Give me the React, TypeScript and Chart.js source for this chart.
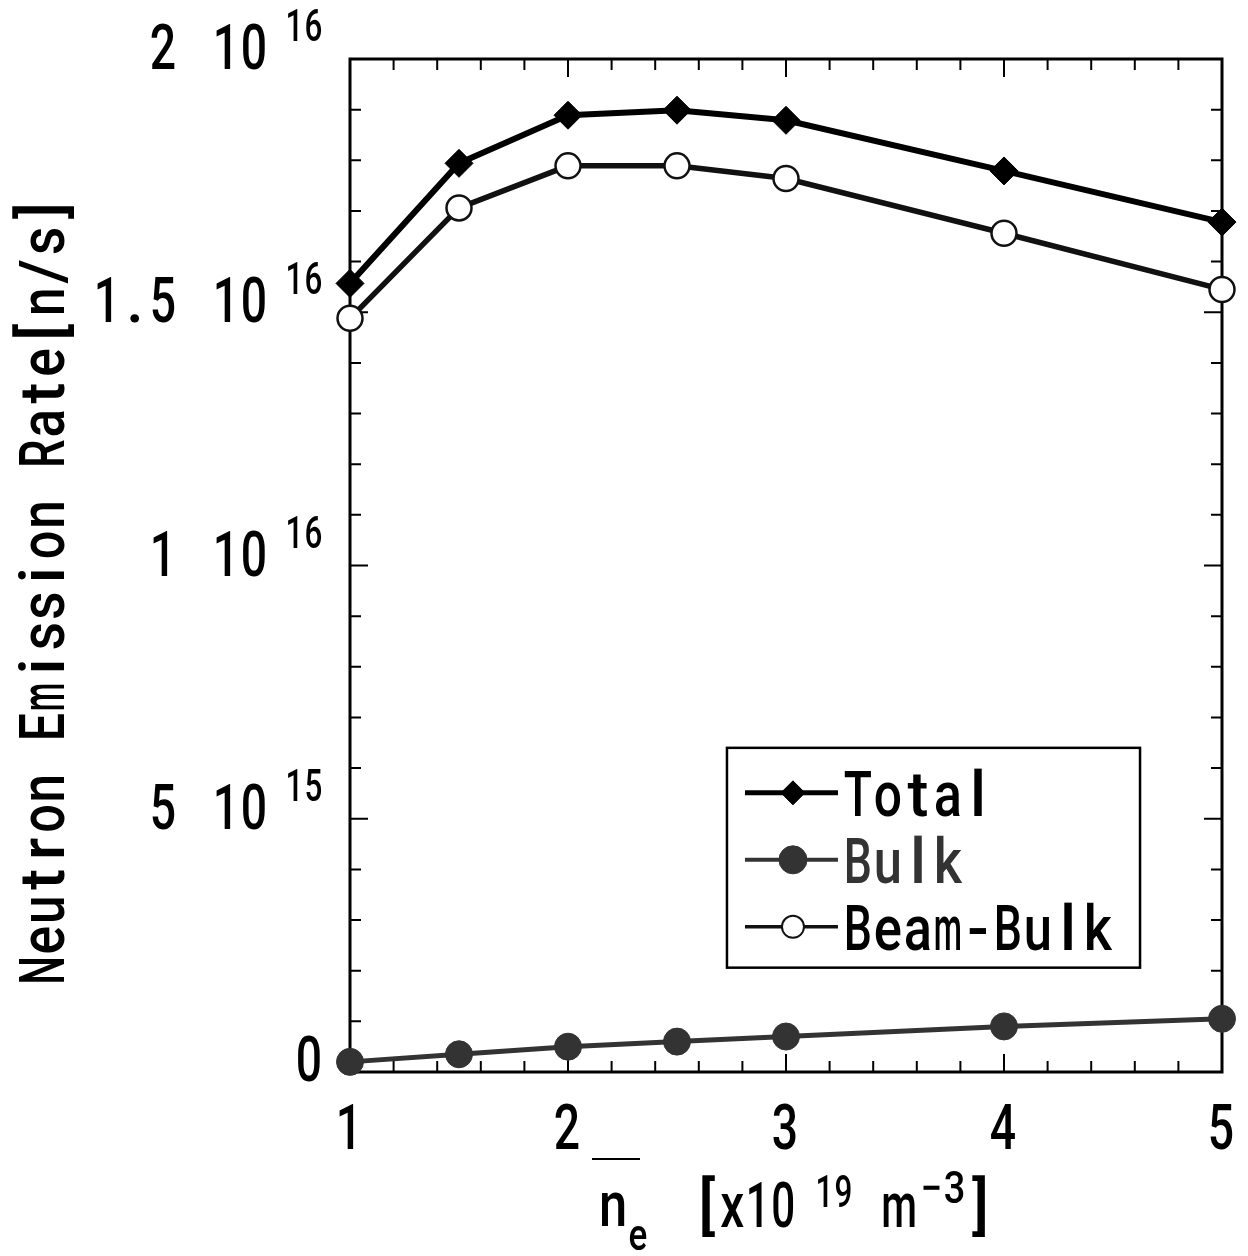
import React, { useEffect, useRef } from "react";
import { Chart, registerables } from "chart.js";

Chart.register(...registerables);

// ---- data ----
const densities = [1, 1.5, 2, 2.5, 3, 4, 5];
const totalRate = [1.557e16, 1.794e16, 1.889e16, 1.899e16, 1.879e16, 1.779e16, 1.678e16];
const bulkRate = [2.0e14, 3.5e14, 5.0e14, 6.0e14, 7.0e14, 9.0e14, 1.05e15];
const beamBulkRate = [1.488e16, 1.706e16, 1.789e16, 1.789e16, 1.764e16, 1.656e16, 1.545e16];

const seriesLabels = ["Total", "Bulk", "Beam-Bulk"];

const xTickValues = [1, 2, 3, 4, 5];
const xTickLabels = ["1", "2", "3", "4", "5"];
const xMinorStep = 0.2;

const yTickValues = [0, 5e15, 1e16, 1.5e16, 2e16];
const yTickMantissas = ["0", "5", "1", "1.5", "2"];
const yTickExponents = ["", "15", "16", "16", "16"];
const yMinorStep = 1e15;

const yTitle = "Neutron Emission Rate[n/s]";

const FONT = 'Roboto, "Noto Sans", sans-serif';
const WEIGHT = "500";

function drawMono(
  ctx: CanvasRenderingContext2D,
  text: string,
  anchor: number,
  baseline: number,
  size: number,
  cell: number,
  color: string,
  align: "left" | "right" | "center" = "left"
) {
  ctx.save();
  ctx.font = `${WEIGHT} ${size}px ${FONT}`;
  ctx.fillStyle = color;
  ctx.textAlign = "center";
  ctx.textBaseline = "alphabetic";
  const total = text.length * cell;
  const x0 = align === "left" ? anchor : align === "right" ? anchor - total : anchor - total / 2;
  for (let i = 0; i < text.length; i++) {
    const ch = text[i];
    if (ch === " ") continue;
    const w = ctx.measureText(ch).width;
    const s = Math.min(1, (cell * 0.94) / Math.max(w, 1));
    ctx.save();
    ctx.translate(x0 + cell * (i + 0.5), baseline);
    ctx.scale(s, 1);
    ctx.fillText(ch, 0, 0);
    ctx.restore();
  }
  ctx.restore();
}

const framePlugin = {
  id: "frameTicks",
  beforeDatasetsDraw(chart: any) {
    const { ctx, chartArea: a, scales } = chart;
    const xs = scales.x;
    const ys = scales.y;
    ctx.save();
    ctx.strokeStyle = "#000";
    ctx.lineWidth = 3;
    ctx.strokeRect(a.left, a.top, a.right - a.left, a.bottom - a.top);
    ctx.lineWidth = 2;
    ctx.beginPath();
    const xMin = xs.min, xMax = xs.max;
    const nx = Math.round((xMax - xMin) / xMinorStep);
    for (let i = 1; i < nx; i++) {
      const v = xMin + i * xMinorStep;
      const major = Math.abs(v - Math.round(v)) < 1e-6;
      const len = major ? 18 : 11;
      const px = xs.getPixelForValue(v);
      ctx.moveTo(px, a.bottom);
      ctx.lineTo(px, a.bottom - len);
      ctx.moveTo(px, a.top);
      ctx.lineTo(px, a.top + len);
    }
    const ny = Math.round((ys.max - ys.min) / yMinorStep);
    for (let i = 1; i < ny; i++) {
      const v = ys.min + i * yMinorStep;
      const major = i % 5 === 0;
      const len = major ? 18 : 11;
      const py = ys.getPixelForValue(v);
      ctx.moveTo(a.left, py);
      ctx.lineTo(a.left + len, py);
      ctx.moveTo(a.right, py);
      ctx.lineTo(a.right - len, py);
    }
    ctx.stroke();
    ctx.restore();
  },
};

const textPlugin = {
  id: "texts",
  afterDraw(chart: any) {
    const { ctx, chartArea: a, scales } = chart;
    const xs = scales.x;
    const ys = scales.y;
    const big = 63;
    const small = 44;
    yTickValues.forEach((v, i) => {
      const py = ys.getPixelForValue(v);
      const exp = yTickExponents[i];
      if (exp) {
        drawMono(ctx, exp, a.left - 27, py - 18, small, 19, "#000", "right");
        drawMono(ctx, "10", a.left - 82, py + 10, big, 28, "#000", "right");
        drawMono(ctx, yTickMantissas[i], a.left - 173, py + 10, big, 28, "#000", "right");
      } else {
        drawMono(ctx, yTickMantissas[i], a.left - 27, py + 9, big, 28, "#000", "right");
      }
    });
    xTickValues.forEach((v, i) => {
      const px = xs.getPixelForValue(v);
      drawMono(ctx, xTickLabels[i], px - 1, a.bottom + 77, big, 28, "#000", "center");
    });
    const cx = (a.left + a.right) / 2;
    const b = a.bottom;
    ctx.save();
    ctx.strokeStyle = "#000";
    ctx.lineWidth = 2;
    ctx.beginPath();
    ctx.moveTo(cx - 194, b + 87);
    ctx.lineTo(cx - 146, b + 87);
    ctx.stroke();
    ctx.restore();
    drawMono(ctx, "n", cx - 188, b + 154, big, 30, "#000", "left");
    drawMono(ctx, "e", cx - 158, b + 178, small, 20, "#000", "left");
    drawMono(ctx, "[x10", cx - 92, b + 155, big, 25.5, "#000", "left");
    drawMono(ctx, "19", cx + 29, b + 135, small, 19, "#000", "left");
    drawMono(ctx, "m", cx + 94, b + 155, big, 38, "#000", "left");
    drawMono(ctx, "\u22123", cx + 134, b + 131, small, 23, "#000", "left");
    drawMono(ctx, "]", cx + 182, b + 155, big, 25, "#000", "left");
    ctx.save();
    ctx.translate(64, (a.top + a.bottom) / 2 + 25);
    ctx.rotate(-Math.PI / 2);
    drawMono(ctx, yTitle, 0, 0, big, 30.4, "#000", "center");
    ctx.restore();

    const W = a.right - a.left;
    const H = a.bottom - a.top;
    const L = a.left + 0.4323 * W;
    const R = a.left + 0.906 * W;
    const T = a.top + 0.68 * H;
    const B = a.top + 0.897 * H;
    ctx.save();
    ctx.fillStyle = "#fff";
    ctx.fillRect(L, T, R - L, B - T);
    ctx.strokeStyle = "#000";
    ctx.lineWidth = 2.5;
    ctx.strokeRect(L, T, R - L, B - T);
    ctx.restore();
    const rowH = 67;
    const textColors = ["#000", "#333", "#000"];
    const lineWidths = [5, 4, 3.5];
    [0, 1, 2].forEach((di, r) => {
      const ds = chart.data.datasets[di];
      const yc = T + 45 + r * rowH;
      ctx.save();
      ctx.strokeStyle = ds.borderColor;
      ctx.lineWidth = lineWidths[r];
      ctx.beginPath();
      ctx.moveTo(L + 18, yc);
      ctx.lineTo(L + 111, yc);
      ctx.stroke();
      const mx = L + 66;
      ctx.fillStyle = ds.pointBackgroundColor;
      ctx.strokeStyle = ds.pointBorderColor;
      ctx.lineWidth = r === 2 ? 2 : 1;
      ctx.beginPath();
      if (ds.pointStyle === "rectRot") {
        const rr = 12;
        ctx.moveTo(mx - rr, yc);
        ctx.lineTo(mx, yc - rr);
        ctx.lineTo(mx + rr, yc);
        ctx.lineTo(mx, yc + rr);
        ctx.closePath();
      } else {
        ctx.arc(mx, yc, r === 1 ? 14 : 11, 0, Math.PI * 2);
      }
      ctx.fill();
      ctx.stroke();
      ctx.restore();
      drawMono(ctx, ds.label, L + 116, yc + 23, big, 30, textColors[r], "left");
    });
  },
};

export default function App() {
  const ref = useRef<HTMLCanvasElement>(null);
  useEffect(() => {
    if (!ref.current) return;
    const toPts = (ys: number[]) => densities.map((x, i) => ({ x, y: ys[i] }));
    const chart = new Chart(ref.current, {
      type: "line",
      data: {
        datasets: [
          {
            label: seriesLabels[0],
            data: toPts(totalRate),
            borderColor: "#000",
            borderWidth: 6,
            pointStyle: "rectRot",
            pointRadius: 14,
            pointBackgroundColor: "#000",
            pointBorderColor: "#000",
            pointBorderWidth: 1,
            tension: 0,
            clip: false,
          } as any,
          {
            label: seriesLabels[1],
            data: toPts(bulkRate),
            borderColor: "#333",
            borderWidth: 5,
            pointStyle: "circle",
            pointRadius: 13.5,
            pointBackgroundColor: "#333",
            pointBorderColor: "#333",
            pointBorderWidth: 1,
            tension: 0,
            clip: false,
          } as any,
          {
            label: seriesLabels[2],
            data: toPts(beamBulkRate),
            borderColor: "#111",
            borderWidth: 5.5,
            pointStyle: "circle",
            pointRadius: 12.5,
            pointBackgroundColor: "#fff",
            pointBorderColor: "#111",
            pointBorderWidth: 2.5,
            tension: 0,
            clip: false,
          } as any,
        ],
      },
      options: {
        responsive: false,
        animation: false,
        devicePixelRatio: 1,
        layout: { padding: { left: 350, right: 26, top: 59, bottom: 184 } },
        plugins: { legend: { display: false }, tooltip: { enabled: false } },
        scales: {
          x: { type: "linear", min: 1, max: 5, display: false },
          y: { type: "linear", min: 0, max: 2e16, display: false },
        },
      },
      plugins: [framePlugin, textPlugin],
    });
    return () => chart.destroy();
  }, []);
  return (
    <div style={{ position: "absolute", left: 0, top: 0, width: 1248, height: 1256, background: "#fff" }}>
      <canvas ref={ref} width={1248} height={1256} style={{ display: "block", width: 1248, height: 1256 }} />
    </div>
  );
}
